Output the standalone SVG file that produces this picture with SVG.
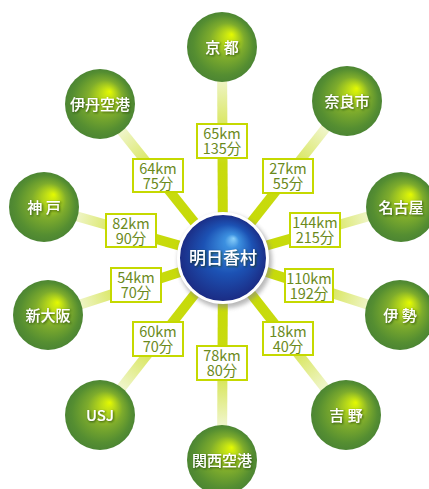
<svg xmlns="http://www.w3.org/2000/svg" width="429" height="489" viewBox="0 0 429 489">
<defs>
<style>
.lbl rect{fill:#fff;stroke:#c5d900;stroke-width:2}
.lbl text{font-family:"Noto Sans CJK JP",sans-serif;font-size:14.5px;font-weight:400;fill:#6b8a1c;text-anchor:middle}
.node circle{fill:url(#green)}
.node text{font-family:"Noto Sans CJK JP",sans-serif;font-size:15px;font-weight:500;fill:#fff;text-anchor:middle;filter:url(#ts)}
.conn line{stroke-width:10;stroke-linecap:butt}
</style>
<radialGradient id="green" cx="0.5" cy="0.5" r="0.5" fx="0.64" fy="0.32">
<stop offset="0" stop-color="#e4fa00"/>
<stop offset="0.15" stop-color="#c4e214"/>
<stop offset="0.5" stop-color="#7eac2c"/>
<stop offset="0.85" stop-color="#558e31"/>
<stop offset="1" stop-color="#4c8533"/>
</radialGradient>
<radialGradient id="blue" cx="0.5" cy="0.5" r="0.5" fx="0.62" fy="0.28">
<stop offset="0" stop-color="#8ad0fa"/>
<stop offset="0.16" stop-color="#3c90e0"/>
<stop offset="0.55" stop-color="#1c52b4"/>
<stop offset="1" stop-color="#1b2a82"/>
</radialGradient>
<filter id="ts" x="-20%" y="-30%" width="140%" height="160%">
<feDropShadow dx="1" dy="1" stdDeviation="0.8" flood-color="#1e3a10" flood-opacity="0.8"/>
</filter>
<filter id="sh" x="-20%" y="-20%" width="140%" height="140%">
<feGaussianBlur stdDeviation="2"/>
</filter>
<linearGradient id="gKyoto" gradientUnits="userSpaceOnUse" x1="223" y1="258" x2="222" y2="47"><stop offset="0" stop-color="#c5d900"/><stop offset="0.45" stop-color="#c8db10"/><stop offset="0.85" stop-color="#eff5c8"/></linearGradient>
<linearGradient id="gNara" gradientUnits="userSpaceOnUse" x1="223" y1="258" x2="347" y2="101"><stop offset="0" stop-color="#c5d900"/><stop offset="0.45" stop-color="#c8db10"/><stop offset="0.82" stop-color="#eff5c8"/></linearGradient>
<linearGradient id="gNagoya" gradientUnits="userSpaceOnUse" x1="223" y1="258" x2="401" y2="207"><stop offset="0" stop-color="#c5d900"/><stop offset="0.45" stop-color="#c8db10"/><stop offset="0.82" stop-color="#eff5c8"/></linearGradient>
<linearGradient id="gIse" gradientUnits="userSpaceOnUse" x1="223" y1="258" x2="400" y2="315"><stop offset="0" stop-color="#c5d900"/><stop offset="0.45" stop-color="#c8db10"/><stop offset="0.82" stop-color="#eff5c8"/></linearGradient>
<linearGradient id="gYoshino" gradientUnits="userSpaceOnUse" x1="223" y1="258" x2="346" y2="415"><stop offset="0" stop-color="#c5d900"/><stop offset="0.45" stop-color="#c8db10"/><stop offset="0.82" stop-color="#eff5c8"/></linearGradient>
<linearGradient id="gKansai" gradientUnits="userSpaceOnUse" x1="223" y1="258" x2="222" y2="460"><stop offset="0" stop-color="#c5d900"/><stop offset="0.45" stop-color="#c8db10"/><stop offset="0.82" stop-color="#eff5c8"/></linearGradient>
<linearGradient id="gUsj" gradientUnits="userSpaceOnUse" x1="223" y1="258" x2="100" y2="415"><stop offset="0" stop-color="#c5d900"/><stop offset="0.45" stop-color="#c8db10"/><stop offset="0.82" stop-color="#eff5c8"/></linearGradient>
<linearGradient id="gShin" gradientUnits="userSpaceOnUse" x1="223" y1="258" x2="48" y2="315"><stop offset="0" stop-color="#c5d900"/><stop offset="0.45" stop-color="#c8db10"/><stop offset="0.82" stop-color="#eff5c8"/></linearGradient>
<linearGradient id="gKobe" gradientUnits="userSpaceOnUse" x1="223" y1="258" x2="44" y2="207"><stop offset="0" stop-color="#c5d900"/><stop offset="0.45" stop-color="#c8db10"/><stop offset="0.82" stop-color="#eff5c8"/></linearGradient>
<linearGradient id="gItami" gradientUnits="userSpaceOnUse" x1="223" y1="258" x2="100" y2="104"><stop offset="0" stop-color="#c5d900"/><stop offset="0.45" stop-color="#c8db10"/><stop offset="0.82" stop-color="#eff5c8"/></linearGradient>
</defs>
<rect width="429" height="489" fill="#fff"/>
<g id="connectors" class="conn">
<line x1="223" y1="258" x2="222" y2="47" stroke="url(#gKyoto)"/>
<line x1="223" y1="258" x2="347" y2="101" stroke="url(#gNara)"/>
<line x1="223" y1="258" x2="401" y2="207" stroke="url(#gNagoya)"/>
<line x1="223" y1="258" x2="400" y2="315" stroke="url(#gIse)"/>
<line x1="223" y1="258" x2="346" y2="415" stroke="url(#gYoshino)"/>
<line x1="223" y1="258" x2="222" y2="460" stroke="url(#gKansai)"/>
<line x1="223" y1="258" x2="100" y2="415" stroke="url(#gUsj)"/>
<line x1="223" y1="258" x2="48" y2="315" stroke="url(#gShin)"/>
<line x1="223" y1="258" x2="44" y2="207" stroke="url(#gKobe)"/>
<line x1="223" y1="258" x2="100" y2="104" stroke="url(#gItami)"/>
</g>
<g id="labels">
<g class="lbl" id="lbl-kyoto"><rect x="197" y="124" width="50" height="34"/><text x="222" y="139">65km<tspan x="222" y="154">135分</tspan></text></g>
<g class="lbl" id="lbl-nara"><rect x="263" y="159" width="50" height="34"/><text x="288" y="174">27km<tspan x="288" y="189">55分</tspan></text></g>
<g class="lbl" id="lbl-nagoya"><rect x="290" y="213" width="50" height="34"/><text x="315" y="228">144km<tspan x="315" y="243">215分</tspan></text></g>
<g class="lbl" id="lbl-ise"><rect x="285" y="269" width="48" height="33"/><text x="309" y="284">110km<tspan x="309" y="299">192分</tspan></text></g>
<g class="lbl" id="lbl-yoshino"><rect x="263" y="322" width="50" height="33"/><text x="288" y="337">18km<tspan x="288" y="352">40分</tspan></text></g>
<g class="lbl" id="lbl-kansai"><rect x="197" y="346" width="50" height="34"/><text x="222" y="361">78km<tspan x="222" y="376">80分</tspan></text></g>
<g class="lbl" id="lbl-usj"><rect x="133" y="322" width="50" height="34"/><text x="158" y="337">60km<tspan x="158" y="352">70分</tspan></text></g>
<g class="lbl" id="lbl-shin"><rect x="111" y="268" width="50" height="34"/><text x="136" y="283">54km<tspan x="136" y="298">70分</tspan></text></g>
<g class="lbl" id="lbl-kobe"><rect x="106" y="214" width="50" height="33"/><text x="131" y="229">82km<tspan x="131" y="244">90分</tspan></text></g>
<g class="lbl" id="lbl-itami"><rect x="133" y="159" width="50" height="33"/><text x="158" y="174">64km<tspan x="158" y="189">75分</tspan></text></g>
</g>
<g id="center">
<circle cx="225" cy="261" r="47" fill="#8a8a8a" opacity="0.6" filter="url(#sh)"/>
<circle cx="223" cy="258" r="44.5" fill="url(#blue)" stroke="#fff" stroke-width="3"/>
<text x="223" y="264" font-family="Noto Sans CJK JP,sans-serif" font-size="17" font-weight="500" fill="#fff" text-anchor="middle" filter="url(#ts)">明日香村</text>
</g>
<g id="kyoto" class="node"><circle cx="222" cy="47" r="35"/><text x="222" y="53">京 都</text></g>
<g id="nara" class="node"><circle cx="347" cy="101" r="35"/><text x="347" y="107">奈良市</text></g>
<g id="nagoya" class="node"><circle cx="401" cy="207" r="35"/><text x="401" y="213">名古屋</text></g>
<g id="ise" class="node"><circle cx="400" cy="315" r="35"/><text x="400" y="321">伊 勢</text></g>
<g id="yoshino" class="node"><circle cx="346" cy="415" r="35"/><text x="346" y="421">吉 野</text></g>
<g id="kansai" class="node"><circle cx="222" cy="460" r="35"/><text x="222" y="466">関西空港</text></g>
<g id="usj" class="node"><circle cx="100" cy="415" r="35"/><text x="100" y="421">USJ</text></g>
<g id="shinosaka" class="node"><circle cx="48" cy="315" r="35"/><text x="48" y="321">新大阪</text></g>
<g id="kobe" class="node"><circle cx="44" cy="207" r="35"/><text x="44" y="213">神 戸</text></g>
<g id="itami" class="node"><circle cx="100" cy="104" r="35"/><text x="100" y="110">伊丹空港</text></g>
</svg>
